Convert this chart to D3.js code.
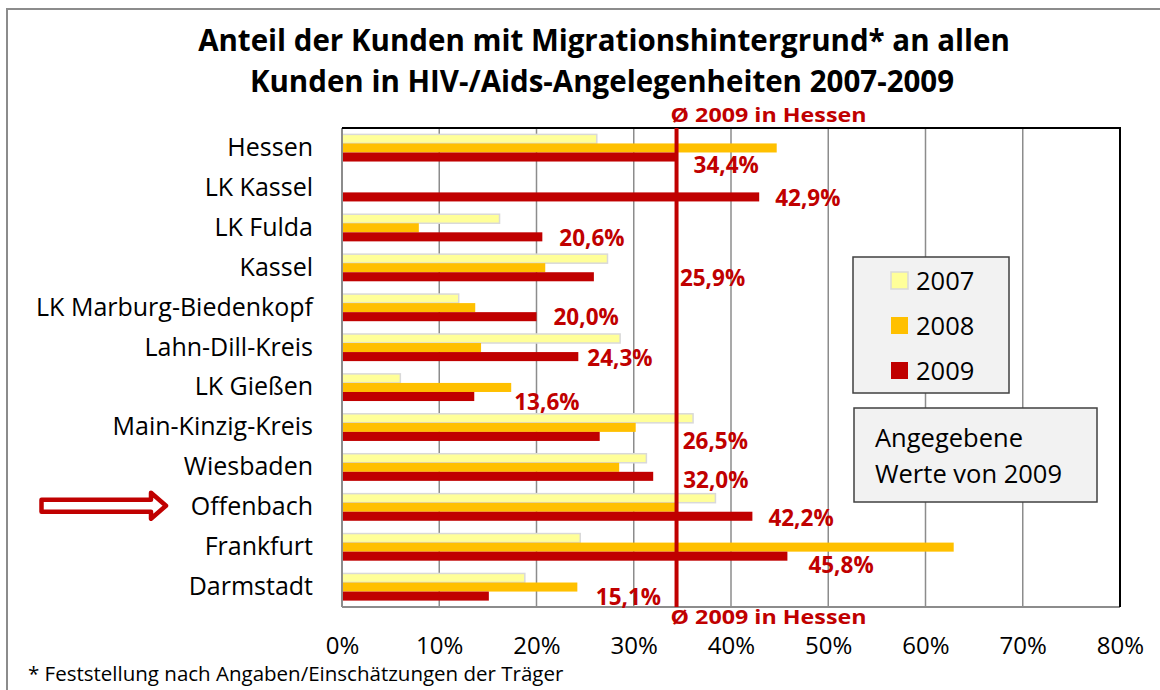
<!DOCTYPE html>
<html>
<head>
<meta charset="utf-8">
<script src="https://cdn.jsdelivr.net/npm/d3@7"></script>
<style>
  body { margin: 0; background: #fff; }
  text { font-family: "Open Sans", sans-serif; }
</style>
</head>
<body>
<div id="chart"></div>
<script>
const categories = ['Hessen', 'LK Kassel', 'LK Fulda', 'Kassel', 'LK Marburg-Biedenkopf',
  'Lahn-Dill-Kreis', 'LK Gießen', 'Main-Kinzig-Kreis', 'Wiesbaden', 'Offenbach',
  'Frankfurt', 'Darmstadt'];
const years = ['2007', '2008', '2009'];
const values2007 = [26.2, null, 16.2, 27.3, 12.0, 28.6, 6.0, 36.1, 31.3, 38.4, 24.5, 18.8];
const values2008 = [44.7, null, 7.9, 20.9, 13.7, 14.3, 17.4, 30.2, 28.5, 34.4, 62.9, 24.2];
const values2009 = [34.4, 42.9, 20.6, 25.9, 20.0, 24.3, 13.6, 26.5, 32.0, 42.2, 45.8, 15.1];
const xTicks = [0, 10, 20, 30, 40, 50, 60, 70, 80];
const hessenAvg = 34.4;

const width = 1160;
const height = 690;
const margin = {top: 128, right: 40, bottom: 83, left: 342};
const colors = {'2007': '#FFFF99', '2008': '#FFC000', '2009': '#C00000'};
const red = '#C00000';
// hand-placed 2009 labels (offset from bar end / bar centre)
const labelOffset = [[17, 8], [16, 1], [17, 1], [86, 1], [17, 0], [9, 1.5],
  [40, 5.5], [83, 4], [30, 4], [16, 2], [21, 9], [107, 1]];

const series = {'2007': values2007, '2008': values2008, '2009': values2009};
const fmt = v => v.toFixed(1).replace('.', ',') + '%';

const svg = d3.select('#chart')
  .append('svg')
  .attr('width', width)
  .attr('height', height);

// outer chart frame
svg.append('rect')
  .attr('x', 7).attr('y', 9)
  .attr('width', width).attr('height', height)
  .attr('fill', 'none').attr('stroke', '#8c8c8c').attr('stroke-width', 2);

svg.append('text')
  .attr('x', 604).attr('y', 51)
  .attr('text-anchor', 'middle')
  .attr('font-size', '29.5px').attr('font-weight', 'bold')
  .text('Anteil der Kunden mit Migrationshintergrund* an allen');
svg.append('text')
  .attr('x', 602).attr('y', 92)
  .attr('text-anchor', 'middle')
  .attr('font-size', '29.5px').attr('font-weight', 'bold')
  .text('Kunden in HIV-/Aids-Angelegenheiten 2007-2009');

const x = d3.scaleLinear()
  .domain([0, 80])
  .range([margin.left, width - margin.right]);

const y = d3.scaleBand()
  .domain(categories)
  .range([margin.top, height - margin.bottom])
  .paddingInner(0.32)
  .paddingOuter(0.16);

const yInner = d3.scaleBand()
  .domain(years)
  .range([0, y.bandwidth()]);

// gridlines
svg.append('g')
  .selectAll('line')
  .data(xTicks.slice(1, -1))
  .join('line')
    .attr('x1', d => x(d)).attr('x2', d => x(d))
    .attr('y1', margin.top).attr('y2', height - margin.bottom)
    .attr('stroke', '#8c8c8c').attr('stroke-width', 1.5);

// bars
const rows = categories.map((c, i) => ({c, i}));
years.forEach(yr => {
  svg.append('g')
    .selectAll('rect')
    .data(rows.filter(r => series[yr][r.i] != null))
    .join('rect')
      .attr('x', x(0))
      .attr('y', r => y(r.c) + yInner(yr))
      .attr('width', r => x(series[yr][r.i]) - x(0))
      .attr('height', yInner.bandwidth())
      .attr('fill', colors[yr])
      .attr('stroke', yr === '2007' ? '#d9d9d9' : 'none')
      .attr('stroke-width', 1.5);
});

// plot frame
svg.append('line')
  .attr('x1', x(0)).attr('x2', x(0))
  .attr('y1', margin.top).attr('y2', height - margin.bottom)
  .attr('stroke', '#8c8c8c').attr('stroke-width', 2);
svg.append('line')
  .attr('x1', x(0)).attr('x2', x(80))
  .attr('y1', height - margin.bottom).attr('y2', height - margin.bottom)
  .attr('stroke', '#8c8c8c').attr('stroke-width', 2);
svg.append('path')
  .attr('d', `M${x(0)},${margin.top}H${x(80)}V${height - margin.bottom}`)
  .attr('fill', 'none').attr('stroke', '#000').attr('stroke-width', 2);

// average line
svg.append('line')
  .attr('x1', x(hessenAvg)).attr('x2', x(hessenAvg))
  .attr('y1', margin.top).attr('y2', height - margin.bottom)
  .attr('stroke', red).attr('stroke-width', 4);
[122, 624].forEach(yy => {
  svg.append('text')
    .attr('x', x(hessenAvg) - 6).attr('y', yy)
    .attr('fill', red)
    .attr('font-family', '"Liberation Sans", Arial, sans-serif')
    .attr('font-size', '20px').attr('font-weight', 'bold')
    .attr('textLength', 196).attr('lengthAdjust', 'spacingAndGlyphs')
    .text('Ø 2009 in Hessen');
});

// 2009 value labels
svg.append('g')
  .selectAll('text')
  .data(rows)
  .join('text')
    .attr('x', r => x(values2009[r.i]) + labelOffset[r.i][0])
    .attr('y', r => y(r.c) + yInner('2009') + yInner.bandwidth() / 2 + labelOffset[r.i][1])
    .attr('dy', '0.36em')
    .attr('fill', red)
    .attr('font-size', '22.5px').attr('font-weight', 'bold')
    .text(r => fmt(values2009[r.i]));

// axes
const yAxis = svg.append('g')
  .attr('transform', `translate(${margin.left},0)`)
  .call(d3.axisLeft(y).tickSize(0).tickPadding(29));
yAxis.select('.domain').remove();
yAxis.selectAll('text')
  .attr('font-family', '"Open Sans", sans-serif')
  .attr('font-size', '25px').attr('fill', '#000');

const xAxis = svg.append('g')
  .attr('transform', `translate(0,${height - margin.bottom})`)
  .call(d3.axisBottom(x).tickValues(xTicks).tickSize(0).tickPadding(30)
    .tickFormat(d => d + '%'));
xAxis.select('.domain').remove();
xAxis.selectAll('text')
  .attr('font-family', '"Open Sans", sans-serif')
  .attr('font-size', '24px').attr('fill', '#000');

// legend
const legend = svg.append('g');
legend.append('rect')
  .attr('x', 853).attr('y', 257).attr('width', 156).attr('height', 136)
  .attr('fill', '#f2f2f2').attr('stroke', '#404040').attr('stroke-width', 1.5);
years.forEach((yr, i) => {
  legend.append('rect')
    .attr('x', 891).attr('y', 272 + i * 45).attr('width', 17).attr('height', 17)
    .attr('fill', colors[yr])
    .attr('stroke', yr === '2007' ? '#d9d9d9' : 'none').attr('stroke-width', 1.5);
  legend.append('text')
    .attr('x', 916).attr('y', 281 + i * 45)
    .attr('dy', '0.36em')
    .attr('font-size', '25.5px')
    .text(yr);
});

// note box
svg.append('rect')
  .attr('x', 854).attr('y', 408).attr('width', 243).attr('height', 94)
  .attr('fill', '#f2f2f2').attr('stroke', '#404040').attr('stroke-width', 1.5);
svg.append('text')
  .attr('x', 875).attr('y', 447).attr('font-size', '25.5px').text('Angegebene');
svg.append('text')
  .attr('x', 875).attr('y', 483).attr('font-size', '25.5px').text('Werte von 2009');

// arrow pointing at Offenbach
const ay = y('Offenbach') + y.bandwidth() / 2 - 1.5;
svg.append('path')
  .attr('d', `M41.5,${ay - 6}H151V${ay - 13}L166,${ay}L151,${ay + 13}V${ay + 6}H41.5Z`)
  .attr('fill', '#fff').attr('stroke', red).attr('stroke-width', 4.5)
  .attr('stroke-linejoin', 'round');

svg.append('text')
  .attr('x', 28).attr('y', 681)
  .attr('font-size', '20.5px')
  .text('* Feststellung nach Angaben/Einschätzungen der Träger');
</script>
</body>
</html>
